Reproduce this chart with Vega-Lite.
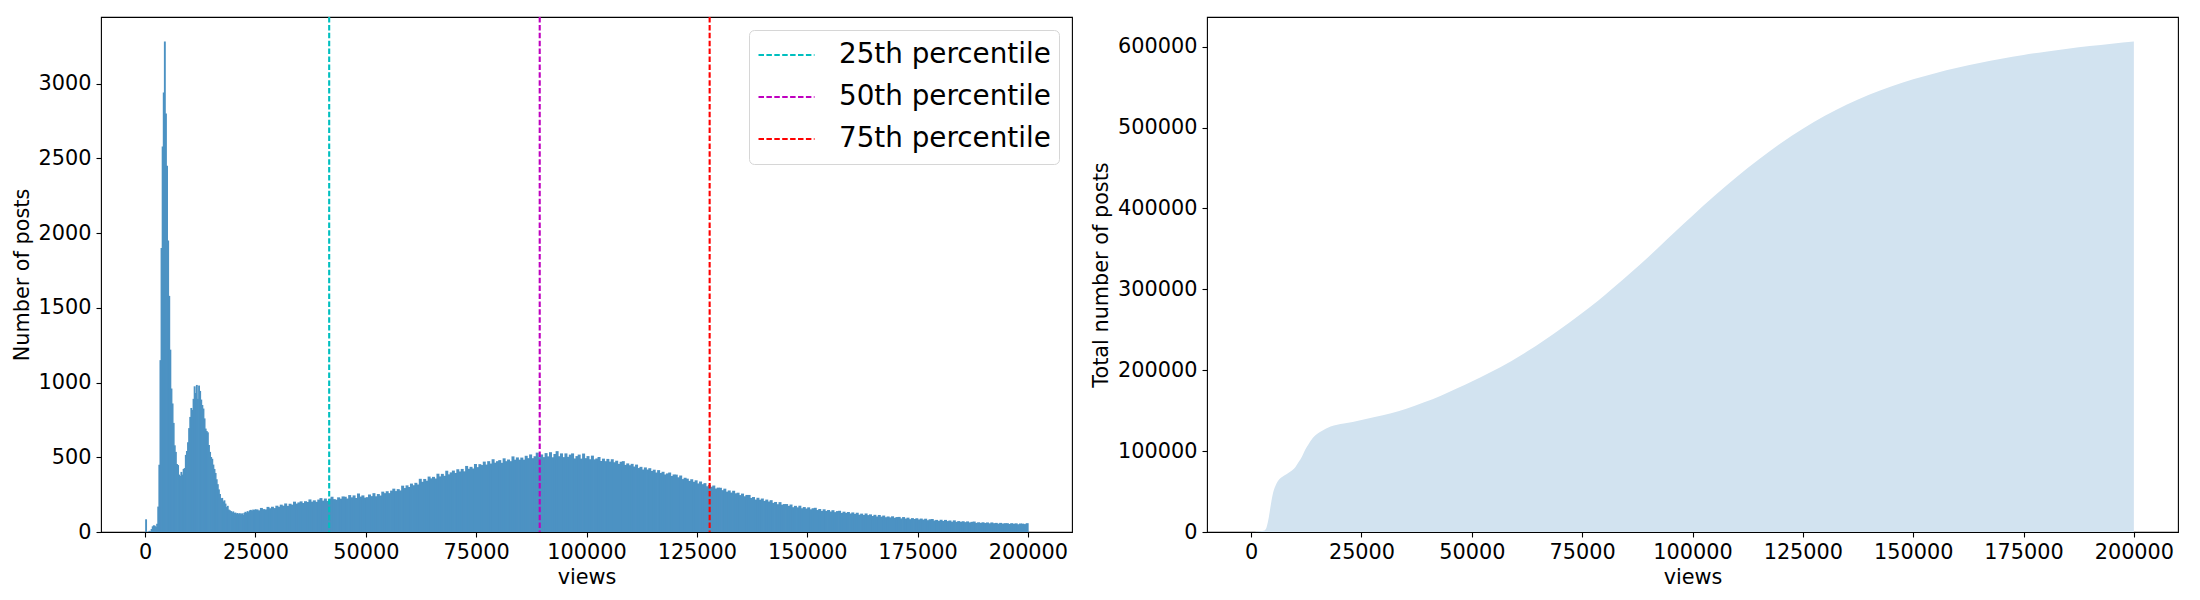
{
  "$schema": "https://vega.github.io/schema/vega-lite/v6.json",
  "padding": {"left": 10, "top": 15, "right": 0, "bottom": 0},
  "spacing": 135,
  "bounds": "flush",
  "resolve": {"legend": {"color": "independent"}},
  "datasets": {
    "pct": [
      {"p": "25th percentile", "v": 41700},
      {"p": "50th percentile", "v": 89400},
      {"p": "75th percentile", "v": 127900}
    ],
    "cum": [
      {"v":1000,"t":500},{"v":2000,"t":1000},{"v":3000,"t":2000},{"v":3500,"t":6000},{"v":4000,"t":18000},{"v":4500,"t":35000},{"v":5000,"t":49000},{"v":5500,"t":57000},{"v":6000,"t":62500},{"v":7000,"t":68000},{"v":8000,"t":71500},{"v":9000,"t":75000},{"v":10000,"t":80000},{"v":10800,"t":86700},{"v":11500,"t":93000},{"v":12000,"t":99000},{"v":13000,"t":108500},{"v":14000,"t":116500},{"v":15000,"t":121500},{"v":16000,"t":125000},{"v":17000,"t":128000},{"v":18000,"t":130500},{"v":19500,"t":132500},{"v":21000,"t":134000},{"v":23000,"t":136000},{"v":25000,"t":138400},{"v":28000,"t":142000},{"v":31700,"t":146700},{"v":35000,"t":152000},{"v":39200,"t":160300},{"v":43000,"t":168500},{"v":46700,"t":177600},{"v":50000,"t":186000},{"v":54000,"t":197000},{"v":58900,"t":211200},{"v":62500,"t":223000},{"v":66500,"t":237300},{"v":70000,"t":250500},{"v":74100,"t":266900},{"v":78600,"t":285900},{"v":82000,"t":301500},{"v":86000,"t":320500},{"v":90000,"t":340000},{"v":94000,"t":360600},{"v":98000,"t":381000},{"v":100000,"t":391000},{"v":105000,"t":415500},{"v":110000,"t":438800},{"v":115000,"t":460500},{"v":120000,"t":480500},{"v":125000,"t":498500},{"v":130000,"t":514500},{"v":135000,"t":528500},{"v":140000,"t":540500},{"v":145000,"t":550800},{"v":150000,"t":559500},{"v":155000,"t":567200},{"v":160000,"t":573900},{"v":165000,"t":579800},{"v":170000,"t":585000},{"v":175000,"t":589700},{"v":180000,"t":593800},{"v":185000,"t":597400},{"v":190000,"t":600600},{"v":195000,"t":603500},{"v":200000,"t":606300}
    ],
    "hist": [
      {"a":0,"b":250,"c":85},{"a":250,"b":500,"c":0},{"a":500,"b":750,"c":0},{"a":750,"b":1000,"c":8},{"a":1000,"b":1250,"c":4},{"a":1250,"b":1500,"c":20},{"a":1500,"b":1750,"c":38},{"a":1750,"b":2000,"c":45},{"a":2000,"b":2250,"c":42},{"a":2250,"b":2500,"c":33},
      {"a":2500,"b":2750,"c":55},{"a":2750,"b":3000,"c":170},{"a":3000,"b":3250,"c":450},{"a":3250,"b":3500,"c":1150},{"a":3500,"b":3750,"c":1900},{"a":3750,"b":4000,"c":2580},{"a":4000,"b":4250,"c":2940},{"a":4250,"b":4500,"c":3282},{"a":4500,"b":4750,"c":2800},{"a":4750,"b":5000,"c":2450},
      {"a":5000,"b":5250,"c":1950},{"a":5250,"b":5500,"c":1580},{"a":5500,"b":5750,"c":1220},{"a":5750,"b":6000,"c":960},{"a":6000,"b":6250,"c":860},{"a":6250,"b":6500,"c":730},{"a":6500,"b":6750,"c":580},{"a":6750,"b":7000,"c":536},{"a":7000,"b":7250,"c":455},{"a":7250,"b":7500,"c":448},
      {"a":7500,"b":7750,"c":384},{"a":7750,"b":8000,"c":375},{"a":8000,"b":8250,"c":402},{"a":8250,"b":8500,"c":384},{"a":8500,"b":8750,"c":422},{"a":8750,"b":9000,"c":428},{"a":9000,"b":9250,"c":516},{"a":9250,"b":9500,"c":542},{"a":9500,"b":9750,"c":600},{"a":9750,"b":10000,"c":695},
      {"a":10000,"b":10250,"c":770},{"a":10250,"b":10500,"c":830},{"a":10500,"b":10750,"c":817},{"a":10750,"b":11000,"c":891},{"a":11000,"b":11250,"c":975},{"a":11250,"b":11500,"c":930},{"a":11500,"b":11750,"c":984},{"a":11750,"b":12000,"c":891},{"a":12000,"b":12250,"c":980},{"a":12250,"b":12500,"c":944},
      {"a":12500,"b":12750,"c":886},{"a":12750,"b":13000,"c":850},{"a":13000,"b":13250,"c":826},{"a":13250,"b":13500,"c":760},{"a":13500,"b":13750,"c":692},{"a":13750,"b":14000,"c":676},{"a":14000,"b":14250,"c":667},{"a":14250,"b":14500,"c":582},{"a":14500,"b":14750,"c":536},{"a":14750,"b":15000,"c":502},
      {"a":15000,"b":15250,"c":490},{"a":15250,"b":15500,"c":451},{"a":15500,"b":15750,"c":422},{"a":15750,"b":16000,"c":395},{"a":16000,"b":16250,"c":353},{"a":16250,"b":16500,"c":320},{"a":16500,"b":16750,"c":285},{"a":16750,"b":17000,"c":255},{"a":17000,"b":17250,"c":225},{"a":17250,"b":17500,"c":228},
      {"a":17500,"b":17750,"c":205},{"a":17750,"b":18000,"c":212},{"a":18000,"b":18250,"c":190},{"a":18250,"b":18500,"c":167},{"a":18500,"b":18750,"c":175},{"a":18750,"b":19000,"c":150},{"a":19000,"b":19250,"c":145},{"a":19250,"b":19500,"c":140},{"a":19500,"b":19750,"c":132},{"a":19750,"b":20000,"c":138},
      {"a":20000,"b":20250,"c":128},{"a":20250,"b":20500,"c":130},{"a":20500,"b":20750,"c":124},{"a":20750,"b":21000,"c":127},{"a":21000,"b":21250,"c":120},{"a":21250,"b":21500,"c":126},{"a":21500,"b":21750,"c":118},{"a":21750,"b":22000,"c":125},{"a":22000,"b":22250,"c":115},{"a":22250,"b":22500,"c":128},
      {"a":22500,"b":22750,"c":135},{"a":22750,"b":23000,"c":130},{"a":23000,"b":23250,"c":140},{"a":23250,"b":23500,"c":133},{"a":23500,"b":23750,"c":145},{"a":23750,"b":24000,"c":148},{"a":24000,"b":24250,"c":142},{"a":24250,"b":24500,"c":150},{"a":24500,"b":24750,"c":147},{"a":24750,"b":25000,"c":152},
      {"a":25000,"b":25500,"c":151},{"a":25500,"b":26000,"c":145},{"a":26000,"b":26500,"c":161},{"a":26500,"b":27000,"c":153},{"a":27000,"b":27500,"c":151},{"a":27500,"b":28000,"c":168},{"a":28000,"b":28500,"c":159},{"a":28500,"b":29000,"c":169},{"a":29000,"b":29500,"c":160},{"a":29500,"b":30000,"c":176},
      {"a":30000,"b":30500,"c":169},{"a":30500,"b":31000,"c":183},{"a":31000,"b":31500,"c":176},{"a":31500,"b":32000,"c":191},{"a":32000,"b":32500,"c":175},{"a":32500,"b":33000,"c":189},{"a":33000,"b":33500,"c":183},{"a":33500,"b":34000,"c":203},{"a":34000,"b":34500,"c":190},{"a":34500,"b":35000,"c":198},
      {"a":35000,"b":35500,"c":205},{"a":35500,"b":36000,"c":194},{"a":36000,"b":36500,"c":206},{"a":36500,"b":37000,"c":201},{"a":37000,"b":37500,"c":218},{"a":37500,"b":38000,"c":203},{"a":38000,"b":38500,"c":212},{"a":38500,"b":39000,"c":202},{"a":39000,"b":39500,"c":217},{"a":39500,"b":40000,"c":227},
      {"a":40000,"b":40500,"c":210},{"a":40500,"b":41000,"c":224},{"a":41000,"b":41500,"c":208},{"a":41500,"b":42000,"c":224},{"a":42000,"b":42500,"c":236},{"a":42500,"b":43000,"c":220},{"a":43000,"b":43500,"c":216},{"a":43500,"b":44000,"c":232},{"a":44000,"b":44500,"c":223},{"a":44500,"b":45000,"c":238},
      {"a":45000,"b":45500,"c":236},{"a":45500,"b":46000,"c":224},{"a":46000,"b":46500,"c":247},{"a":46500,"b":47000,"c":232},{"a":47000,"b":47500,"c":245},{"a":47500,"b":48000,"c":227},{"a":48000,"b":48500,"c":258},{"a":48500,"b":49000,"c":237},{"a":49000,"b":49500,"c":245},{"a":49500,"b":50000,"c":230},
      {"a":50000,"b":50500,"c":233},{"a":50500,"b":51000,"c":251},{"a":51000,"b":51500,"c":240},{"a":51500,"b":52000,"c":260},{"a":52000,"b":52500,"c":239},{"a":52500,"b":53000,"c":254},{"a":53000,"b":53500,"c":244},{"a":53500,"b":54000,"c":270},{"a":54000,"b":54500,"c":260},{"a":54500,"b":55000,"c":273},
      {"a":55000,"b":55500,"c":260},{"a":55500,"b":56000,"c":277},{"a":56000,"b":56500,"c":290},{"a":56500,"b":57000,"c":274},{"a":57000,"b":57500,"c":287},{"a":57500,"b":58000,"c":278},{"a":58000,"b":58500,"c":310},{"a":58500,"b":59000,"c":294},{"a":59000,"b":59500,"c":312},{"a":59500,"b":60000,"c":301},
      {"a":60000,"b":60500,"c":324},{"a":60500,"b":61000,"c":313},{"a":61000,"b":61500,"c":329},{"a":61500,"b":62000,"c":318},{"a":62000,"b":62500,"c":356},{"a":62500,"b":63000,"c":336},{"a":63000,"b":63500,"c":355},{"a":63500,"b":64000,"c":343},{"a":64000,"b":64500,"c":371},{"a":64500,"b":65000,"c":359},
      {"a":65000,"b":65500,"c":369},{"a":65500,"b":66000,"c":358},{"a":66000,"b":66500,"c":390},{"a":66500,"b":67000,"c":372},{"a":67000,"b":67500,"c":389},{"a":67500,"b":68000,"c":376},{"a":68000,"b":68500,"c":410},{"a":68500,"b":69000,"c":386},{"a":69000,"b":69500,"c":399},{"a":69500,"b":70000,"c":411},
      {"a":70000,"b":70500,"c":395},{"a":70500,"b":71000,"c":420},{"a":71000,"b":71500,"c":405},{"a":71500,"b":72000,"c":422},{"a":72000,"b":72500,"c":406},{"a":72500,"b":73000,"c":442},{"a":73000,"b":73500,"c":423},{"a":73500,"b":74000,"c":436},{"a":74000,"b":74500,"c":425},{"a":74500,"b":75000,"c":455},
      {"a":75000,"b":75500,"c":434},{"a":75500,"b":76000,"c":454},{"a":76000,"b":76500,"c":448},{"a":76500,"b":77000,"c":471},{"a":77000,"b":77500,"c":451},{"a":77500,"b":78000,"c":474},{"a":78000,"b":78500,"c":458},{"a":78500,"b":79000,"c":487},{"a":79000,"b":79500,"c":464},{"a":79500,"b":80000,"c":474},
      {"a":80000,"b":80500,"c":481},{"a":80500,"b":81000,"c":463},{"a":81000,"b":81500,"c":493},{"a":81500,"b":82000,"c":474},{"a":82000,"b":82500,"c":485},{"a":82500,"b":83000,"c":474},{"a":83000,"b":83500,"c":506},{"a":83500,"b":84000,"c":484},{"a":84000,"b":84500,"c":499},{"a":84500,"b":85000,"c":484},
      {"a":85000,"b":85500,"c":498},{"a":85500,"b":86000,"c":484},{"a":86000,"b":86500,"c":510},{"a":86500,"b":87000,"c":494},{"a":87000,"b":87500,"c":519},{"a":87500,"b":88000,"c":494},{"a":88000,"b":88500,"c":507},{"a":88500,"b":89000,"c":531},{"a":89000,"b":89500,"c":501},{"a":89500,"b":90000,"c":519},
      {"a":90000,"b":90500,"c":501},{"a":90500,"b":91000,"c":528},{"a":91000,"b":91500,"c":506},{"a":91500,"b":92000,"c":534},{"a":92000,"b":92500,"c":500},{"a":92500,"b":93000,"c":522},{"a":93000,"b":93500,"c":541},{"a":93500,"b":94000,"c":507},{"a":94000,"b":94500,"c":526},{"a":94500,"b":95000,"c":501},
      {"a":95000,"b":95500,"c":526},{"a":95500,"b":96000,"c":503},{"a":96000,"b":96500,"c":518},{"a":96500,"b":97000,"c":526},{"a":97000,"b":97500,"c":492},{"a":97500,"b":98000,"c":508},{"a":98000,"b":98500,"c":518},{"a":98500,"b":99000,"c":491},{"a":99000,"b":99500,"c":525},{"a":99500,"b":100000,"c":494},
      {"a":100000,"b":100500,"c":508},{"a":100500,"b":101000,"c":487},{"a":101000,"b":101500,"c":511},{"a":101500,"b":102000,"c":486},{"a":102000,"b":102500,"c":492},{"a":102500,"b":103000,"c":502},{"a":103000,"b":103500,"c":475},{"a":103500,"b":104000,"c":491},{"a":104000,"b":104500,"c":474},{"a":104500,"b":105000,"c":489},
      {"a":105000,"b":105500,"c":471},{"a":105500,"b":106000,"c":487},{"a":106000,"b":106500,"c":467},{"a":106500,"b":107000,"c":477},{"a":107000,"b":107500,"c":456},{"a":107500,"b":108000,"c":470},{"a":108000,"b":108500,"c":474},{"a":108500,"b":109000,"c":449},{"a":109000,"b":109500,"c":459},{"a":109500,"b":110000,"c":447},
      {"a":110000,"b":110500,"c":456},{"a":110500,"b":111000,"c":438},{"a":111000,"b":111500,"c":451},{"a":111500,"b":112000,"c":428},{"a":112000,"b":112500,"c":436},{"a":112500,"b":113000,"c":418},{"a":113000,"b":113500,"c":432},{"a":113500,"b":114000,"c":418},{"a":114000,"b":114500,"c":427},{"a":114500,"b":115000,"c":408},
      {"a":115000,"b":115500,"c":417},{"a":115500,"b":116000,"c":398},{"a":116000,"b":116500,"c":414},{"a":116500,"b":117000,"c":395},{"a":117000,"b":117500,"c":403},{"a":117500,"b":118000,"c":385},{"a":118000,"b":118500,"c":392},{"a":118500,"b":119000,"c":398},{"a":119000,"b":119500,"c":375},{"a":119500,"b":120000,"c":385},
      {"a":120000,"b":120500,"c":384},{"a":120500,"b":121000,"c":366},{"a":121000,"b":121500,"c":378},{"a":121500,"b":122000,"c":354},{"a":122000,"b":122500,"c":363},{"a":122500,"b":123000,"c":357},{"a":123000,"b":123500,"c":342},{"a":123500,"b":124000,"c":353},{"a":124000,"b":124500,"c":336},{"a":124500,"b":125000,"c":346},
      {"a":125000,"b":125500,"c":325},{"a":125500,"b":126000,"c":338},{"a":126000,"b":126500,"c":320},{"a":126500,"b":127000,"c":327},{"a":127000,"b":127500,"c":306},{"a":127500,"b":128000,"c":316},{"a":128000,"b":128500,"c":303},{"a":128500,"b":129000,"c":311},{"a":129000,"b":129500,"c":291},{"a":129500,"b":130000,"c":297},
      {"a":130000,"b":130500,"c":296},{"a":130500,"b":131000,"c":280},{"a":131000,"b":131500,"c":290},{"a":131500,"b":132000,"c":270},{"a":132000,"b":132500,"c":278},{"a":132500,"b":133000,"c":264},{"a":133000,"b":133500,"c":276},{"a":133500,"b":134000,"c":259},{"a":134000,"b":134500,"c":263},{"a":134500,"b":135000,"c":247},
      {"a":135000,"b":135500,"c":257},{"a":135500,"b":136000,"c":239},{"a":136000,"b":136500,"c":248},{"a":136500,"b":137000,"c":248},{"a":137000,"b":137500,"c":228},{"a":137500,"b":138000,"c":234},{"a":138000,"b":138500,"c":217},{"a":138500,"b":139000,"c":229},{"a":139000,"b":139500,"c":216},{"a":139500,"b":140000,"c":224},
      {"a":140000,"b":140500,"c":208},{"a":140500,"b":141000,"c":217},{"a":141000,"b":141500,"c":204},{"a":141500,"b":142000,"c":213},{"a":142000,"b":142500,"c":195},{"a":142500,"b":143000,"c":201},{"a":143000,"b":143500,"c":186},{"a":143500,"b":144000,"c":200},{"a":144000,"b":144500,"c":183},{"a":144500,"b":145000,"c":187},
      {"a":145000,"b":145500,"c":187},{"a":145500,"b":146000,"c":175},{"a":146000,"b":146500,"c":184},{"a":146500,"b":147000,"c":166},{"a":147000,"b":147500,"c":175},{"a":147500,"b":148000,"c":165},{"a":148000,"b":148500,"c":176},{"a":148500,"b":149000,"c":159},{"a":149000,"b":149500,"c":167},{"a":149500,"b":150000,"c":157},
      {"a":150000,"b":150500,"c":165},{"a":150500,"b":151000,"c":152},{"a":151000,"b":151500,"c":159},{"a":151500,"b":152000,"c":162},{"a":152000,"b":152500,"c":147},{"a":152500,"b":153000,"c":154},{"a":153000,"b":153500,"c":141},{"a":153500,"b":154000,"c":152},{"a":154000,"b":154500,"c":141},{"a":154500,"b":155000,"c":147},
      {"a":155000,"b":155500,"c":137},{"a":155500,"b":156000,"c":146},{"a":156000,"b":156500,"c":133},{"a":156500,"b":157000,"c":140},{"a":157000,"b":157500,"c":142},{"a":157500,"b":158000,"c":128},{"a":158000,"b":158500,"c":136},{"a":158500,"b":159000,"c":128},{"a":159000,"b":159500,"c":134},{"a":159500,"b":160000,"c":124},
      {"a":160000,"b":160500,"c":131},{"a":160500,"b":161000,"c":121},{"a":161000,"b":161500,"c":129},{"a":161500,"b":162000,"c":116},{"a":162000,"b":162500,"c":123},{"a":162500,"b":163000,"c":114},{"a":163000,"b":163500,"c":124},{"a":163500,"b":164000,"c":113},{"a":164000,"b":164500,"c":118},{"a":164500,"b":165000,"c":107},
      {"a":165000,"b":165500,"c":115},{"a":165500,"b":166000,"c":104},{"a":166000,"b":166500,"c":114},{"a":166500,"b":167000,"c":103},{"a":167000,"b":167500,"c":110},{"a":167500,"b":168000,"c":99},{"a":168000,"b":168500,"c":104},{"a":168500,"b":169000,"c":98},{"a":169000,"b":169500,"c":105},{"a":169500,"b":170000,"c":95},
      {"a":170000,"b":170500,"c":100},{"a":170500,"b":171000,"c":101},{"a":171000,"b":171500,"c":91},{"a":171500,"b":172000,"c":100},{"a":172000,"b":172500,"c":90},{"a":172500,"b":173000,"c":96},{"a":173000,"b":173500,"c":86},{"a":173500,"b":174000,"c":93},{"a":174000,"b":174500,"c":87},{"a":174500,"b":175000,"c":92},
      {"a":175000,"b":175500,"c":84},{"a":175500,"b":176000,"c":90},{"a":176000,"b":176500,"c":83},{"a":176500,"b":177000,"c":89},{"a":177000,"b":177500,"c":79},{"a":177500,"b":178000,"c":85},{"a":178000,"b":178500,"c":87},{"a":178500,"b":179000,"c":77},{"a":179000,"b":179500,"c":81},{"a":179500,"b":180000,"c":74},
      {"a":180000,"b":180500,"c":82},{"a":180500,"b":181000,"c":74},{"a":181000,"b":181500,"c":81},{"a":181500,"b":182000,"c":73},{"a":182000,"b":182500,"c":77},{"a":182500,"b":183000,"c":69},{"a":183000,"b":183500,"c":78},{"a":183500,"b":184000,"c":68},{"a":184000,"b":184500,"c":73},{"a":184500,"b":185000,"c":68},
      {"a":185000,"b":185500,"c":72},{"a":185500,"b":186000,"c":66},{"a":186000,"b":186500,"c":71},{"a":186500,"b":187000,"c":64},{"a":187000,"b":187500,"c":68},{"a":187500,"b":188000,"c":70},{"a":188000,"b":188500,"c":61},{"a":188500,"b":189000,"c":65},{"a":189000,"b":189500,"c":61},{"a":189500,"b":190000,"c":65},
      {"a":190000,"b":190500,"c":60},{"a":190500,"b":191000,"c":64},{"a":191000,"b":191500,"c":58},{"a":191500,"b":192000,"c":64},{"a":192000,"b":192500,"c":59},{"a":192500,"b":193000,"c":61},{"a":193000,"b":193500,"c":56},{"a":193500,"b":194000,"c":61},{"a":194000,"b":194500,"c":56},{"a":194500,"b":195000,"c":59},
      {"a":195000,"b":195500,"c":59},{"a":195500,"b":196000,"c":54},{"a":196000,"b":196500,"c":59},{"a":196500,"b":197000,"c":55},{"a":197000,"b":197500,"c":58},{"a":197500,"b":198000,"c":52},{"a":198000,"b":198500,"c":57},{"a":198500,"b":199000,"c":56},{"a":199000,"b":199500,"c":53},{"a":199500,"b":200000,"c":59}
    ]
  },
  "hconcat": [
    {
      "width": 971,
      "height": 515,
      "layer": [
        {
          "data": {"name": "hist"},
          "mark": {"type": "rect", "color": "#4c92c3", "x2Offset": 0.8},
          "encoding": {
            "x": {"field": "a", "type": "quantitative", "title": "views",
                  "scale": {"domain": [-10000, 210000], "nice": false, "zero": false},
                  "axis": {"values": [0, 25000, 50000, 75000, 100000, 125000, 150000, 175000, 200000], "format": "d"}},
            "x2": {"field": "b"},
            "y": {"field": "c", "type": "quantitative", "title": "Number of posts",
                  "scale": {"domain": [0, 3446], "nice": false},
                  "axis": {"values": [0, 500, 1000, 1500, 2000, 2500, 3000], "format": "d"}},
            "y2": {"datum": 0}
          }
        },
        {
          "data": {"name": "pct"},
          "mark": {"type": "rule", "strokeDash": [5.5, 2.4], "strokeWidth": 2.1},
          "encoding": {
            "x": {"field": "v", "type": "quantitative", "title": "views"},
            "color": {"field": "p", "type": "nominal",
                      "scale": {"domain": ["25th percentile", "50th percentile", "75th percentile"], "range": ["#00bfbf", "#bf00bf", "#ff0000"]},
                      "legend": {"title": null, "orient": "top-right", "offset": 13, "symbolType": "stroke", "symbolSize": 3136,
                                 "symbolStrokeWidth": 2.1, "symbolDash": [5.5, 2.4], "labelFontSize": 27.8, "labelColor": "black",
                                 "labelOffset": 23, "labelLimit": 500, "clipHeight": 34, "rowPadding": 8, "padding": 8,
                                 "strokeColor": "#d6d6d6", "fillColor": "rgba(255,255,255,0.8)", "cornerRadius": 5}}
          }
        }
      ]
    },
    {
      "width": 971,
      "height": 515,
      "data": {"name": "cum"},
      "mark": {"type": "area", "color": "#d2e3f0", "interpolate": "monotone"},
      "encoding": {
        "x": {"field": "v", "type": "quantitative", "title": "views",
              "scale": {"domain": [-10000, 210000], "nice": false, "zero": false},
              "axis": {"values": [0, 25000, 50000, 75000, 100000, 125000, 150000, 175000, 200000], "format": "d"}},
        "y": {"field": "t", "type": "quantitative", "title": "Total number of posts",
              "scale": {"domain": [0, 636600], "nice": false},
              "axis": {"values": [0, 100000, 200000, 300000, 400000, 500000, 600000], "format": "d"}}
      }
    }
  ],
  "config": {
    "font": "DejaVu Sans",
    "view": {"stroke": "black", "strokeWidth": 1.1},
    "axis": {
      "grid": false, "domain": false, "tickColor": "black", "tickWidth": 1.1, "tickSize": 5,
      "labelFontSize": 20.8, "labelColor": "black", "labelPadding": 5, "labelFlush": false, "labelOverlap": false,
      "titleFontSize": 20.8, "titleFontWeight": "normal", "titleColor": "black", "titlePadding": 6
    }
  }
}
